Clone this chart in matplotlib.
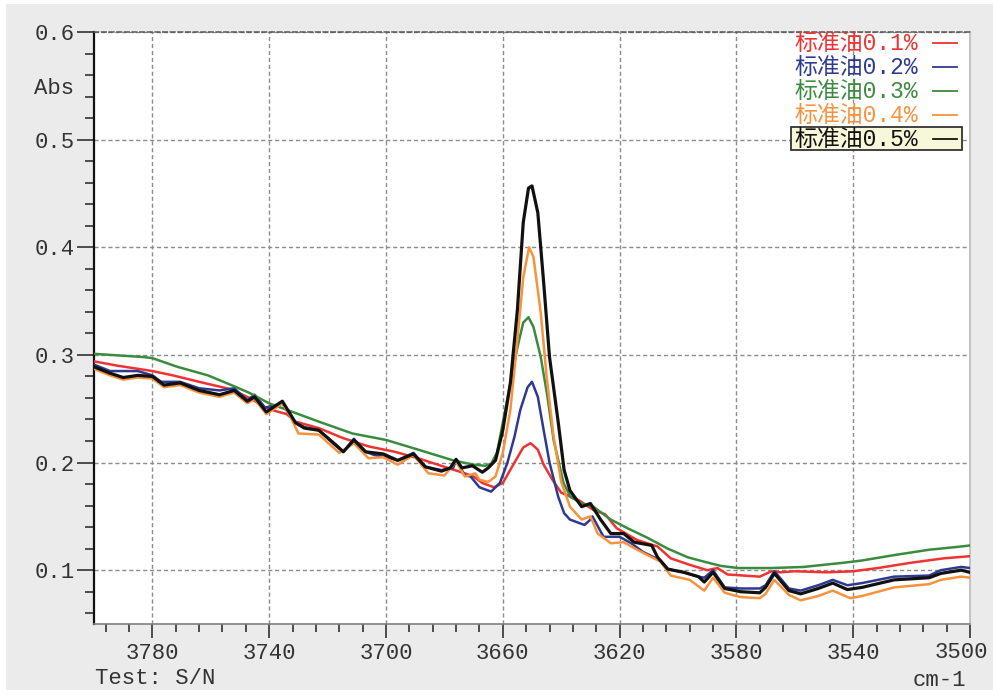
import matplotlib
matplotlib.use("Agg")
import matplotlib.pyplot as plt
import numpy as np
from matplotlib.lines import Line2D
from matplotlib.patches import Rectangle
from matplotlib.ticker import FixedLocator, FuncFormatter

# --- data (wavenumber cm-1, absorbance) ---
wn_01 = [3800, 3792, 3780, 3773, 3764, 3753, 3746, 3742, 3738, 3734, 3731, 3723, 3715,
         3706, 3697, 3689, 3680, 3673, 3670, 3667, 3663, 3660, 3656, 3653, 3650.5, 3648,
         3646, 3643, 3640, 3634, 3629, 3625, 3621, 3614, 3607, 3602.5, 3596, 3590, 3586.5,
         3583, 3572, 3568, 3565, 3560, 3549, 3540, 3531.5, 3520, 3509, 3500]
abs_01 = [0.294, 0.290, 0.285, 0.281, 0.275, 0.268, 0.259, 0.252, 0.248, 0.245, 0.238,
          0.232, 0.223, 0.215, 0.210, 0.204, 0.196, 0.190, 0.187, 0.181, 0.177, 0.181,
          0.200, 0.214, 0.218, 0.212, 0.198, 0.184, 0.172, 0.165, 0.156, 0.152, 0.139,
          0.128, 0.122, 0.111, 0.105, 0.100, 0.102, 0.096, 0.094, 0.099, 0.098, 0.099,
          0.098, 0.099, 0.102, 0.107, 0.111, 0.113]

wn_02 = [3800, 3794.5, 3785, 3780, 3777, 3770.5, 3764, 3757, 3752, 3747.5, 3745, 3741.4,
         3735.5, 3733, 3731, 3728, 3723, 3717, 3714.6, 3711, 3707, 3704, 3700, 3696,
         3690.6, 3686.5, 3681, 3677, 3676, 3673, 3671, 3668, 3664, 3661, 3658.4, 3656,
         3654, 3651.5, 3650, 3648, 3646, 3644, 3641, 3639, 3637, 3632, 3630, 3629.3,
         3625.5, 3620, 3616, 3612, 3606, 3603.5, 3598, 3593, 3591, 3588, 3584, 3578.5,
         3572, 3570, 3567, 3562, 3558, 3552, 3547, 3542, 3537, 3526, 3514, 3510, 3503, 3500]
abs_02 = [0.291, 0.285, 0.285, 0.281, 0.275, 0.275, 0.269, 0.267, 0.269, 0.258, 0.263,
          0.251, 0.255, 0.244, 0.237, 0.233, 0.230, 0.215, 0.210, 0.222, 0.210, 0.207,
          0.205, 0.202, 0.209, 0.196, 0.193, 0.195, 0.202, 0.188, 0.187, 0.177, 0.173,
          0.181, 0.200, 0.224, 0.249, 0.270, 0.275, 0.261, 0.230, 0.200, 0.168, 0.153,
          0.147, 0.142, 0.147, 0.150, 0.131, 0.131, 0.125, 0.117, 0.109, 0.101, 0.098,
          0.094, 0.093, 0.100, 0.084, 0.083, 0.083, 0.086, 0.099, 0.083, 0.081, 0.086,
          0.091, 0.086, 0.088, 0.094, 0.095, 0.100, 0.103, 0.102]

wn_03 = [3800, 3783, 3780, 3771.5, 3761, 3753, 3747, 3740, 3733, 3723, 3711.5, 3700,
         3689, 3677, 3670, 3666, 3664, 3662, 3660, 3657.4, 3655, 3653, 3651.2, 3649.5,
         3647, 3644.7, 3642.6, 3639.2, 3636.8, 3633, 3629, 3623, 3617.3, 3610.4, 3603.5,
         3596.7, 3591.2, 3585.4, 3579.5, 3568, 3557, 3543, 3537, 3526, 3514, 3503, 3500]
abs_03 = [0.301, 0.298, 0.297, 0.289, 0.281, 0.272, 0.265, 0.255, 0.248, 0.238, 0.227,
          0.221, 0.212, 0.202, 0.198, 0.197, 0.199, 0.209, 0.237, 0.274, 0.307, 0.330,
          0.335, 0.326, 0.298, 0.261, 0.221, 0.181, 0.168, 0.162, 0.159, 0.147, 0.139,
          0.130, 0.120, 0.112, 0.108, 0.104, 0.102, 0.102, 0.103, 0.107, 0.109, 0.114,
          0.119, 0.122, 0.123]

wn_04 = [3800, 3794.5, 3790, 3785, 3780, 3776, 3770.5, 3764, 3757, 3752, 3747.5, 3745,
         3741, 3735.5, 3733, 3730, 3723, 3716, 3711, 3706, 3701, 3696, 3690.6, 3685.5,
         3680, 3676, 3673, 3669.4, 3668, 3665, 3662.5, 3660, 3657.4, 3655, 3653, 3651,
         3649.5, 3647, 3645, 3642.6, 3640, 3637, 3633, 3630, 3627.5, 3623, 3618.6, 3614,
         3609, 3606, 3602.5, 3596, 3591, 3588, 3584, 3578.5, 3572, 3570, 3567, 3562,
         3558, 3552, 3547, 3541, 3537, 3526, 3514, 3510, 3503, 3500]
abs_04 = [0.287, 0.281, 0.277, 0.279, 0.278, 0.270, 0.272, 0.265, 0.261, 0.265, 0.255,
          0.259, 0.245, 0.255, 0.244, 0.227, 0.226, 0.209, 0.218, 0.204, 0.205, 0.198,
          0.207, 0.190, 0.188, 0.201, 0.187, 0.190, 0.184, 0.182, 0.187, 0.209, 0.249,
          0.314, 0.372, 0.400, 0.391, 0.339, 0.280, 0.224, 0.182, 0.159, 0.147, 0.150,
          0.134, 0.125, 0.126, 0.119, 0.112, 0.108, 0.095, 0.091, 0.081, 0.093, 0.079,
          0.075, 0.074, 0.078, 0.091, 0.077, 0.072, 0.076, 0.081, 0.074, 0.076, 0.084,
          0.087, 0.091, 0.094, 0.093]

wn_05 = [3800, 3794.5, 3790, 3785, 3780, 3776, 3770.5, 3764, 3757, 3752, 3747.5, 3745,
         3741, 3735.5, 3733, 3731, 3728, 3723, 3717, 3714.6, 3711, 3707, 3701, 3696,
         3690.6, 3686.5, 3681, 3678, 3676, 3674, 3670.4, 3667, 3665, 3662.5, 3660, 3657.4,
         3655, 3653, 3651.2, 3650, 3648, 3646, 3644, 3641, 3639, 3637, 3633, 3630, 3626.5,
         3623, 3618.6, 3615, 3609, 3607, 3603.5, 3598, 3593, 3591, 3588, 3584, 3578.5,
         3572, 3570, 3567, 3562, 3558, 3552, 3547, 3542, 3537, 3526, 3514, 3510, 3503, 3500]
abs_05 = [0.289, 0.283, 0.279, 0.281, 0.280, 0.272, 0.274, 0.267, 0.263, 0.267, 0.257,
          0.261, 0.247, 0.257, 0.246, 0.237, 0.232, 0.230, 0.216, 0.210, 0.221, 0.210,
          0.208, 0.202, 0.208, 0.196, 0.192, 0.195, 0.203, 0.195, 0.197, 0.191, 0.195,
          0.202, 0.230, 0.274, 0.342, 0.423, 0.455, 0.457, 0.432, 0.367, 0.298, 0.237,
          0.193, 0.174, 0.159, 0.162, 0.147, 0.134, 0.134, 0.126, 0.123, 0.112, 0.101,
          0.098, 0.094, 0.089, 0.098, 0.083, 0.080, 0.079, 0.084, 0.097, 0.081, 0.078,
          0.083, 0.088, 0.082, 0.084, 0.091, 0.093, 0.097, 0.100, 0.098]

labels = ["标准油0.1%", "标准油0.2%", "标准油0.3%", "标准油0.4%", "标准油0.5%"]
colors = ["#f03232", "#2e3a92", "#3b8b3e", "#f8923c", "#111111"]
x_major = [3780, 3740, 3700, 3660, 3620, 3580, 3540, 3500]

W, H = 993, 694
mono = "Liberation Mono"
cjk = [mono, "Noto Sans CJK SC", "DejaVu Sans"]

fig = plt.figure(figsize=(W / 100, H / 100), dpi=100)
fig.patch.set_facecolor("white")
fig.add_artist(Rectangle((6 / W, 4 / H), (W - 6) / W, (H - 8) / H,
                         transform=fig.transFigure, fc="#ebebeb", ec="none", zorder=-5))

ax = fig.add_axes([94 / W, 1 - 624 / H, (970 - 94) / W, (624 - 32) / H])
ax.set_facecolor("white")

series = [(wn_01, abs_01), (wn_02, abs_02), (wn_03, abs_03), (wn_04, abs_04), (wn_05, abs_05)]
for (wn, ab), c in zip(series, colors):
    lw = 2.3 if c == "#111111" else 1.8
    ax.plot(wn, ab, color=c, lw=lw, solid_joinstyle="round", zorder=3)

ax.set_xlim(3800, 3500)
ax.set_ylim(0.05, 0.6)

ax.xaxis.set_major_locator(FixedLocator(x_major))
ax.xaxis.set_minor_locator(FixedLocator(np.arange(3500, 3800, 8)))
ax.yaxis.set_major_locator(FixedLocator([0.1, 0.2, 0.3, 0.4, 0.5, 0.6]))
ax.yaxis.set_minor_locator(FixedLocator(np.arange(0.06, 0.6, 0.02)))
ax.yaxis.set_major_formatter(FuncFormatter(lambda v, p: f"{v:.1f}"))
# the last label (3500) is nudged left by hand so it stays inside the frame
ax.xaxis.set_major_formatter(FuncFormatter(lambda v, p: "" if v == 3500 else f"{v:.0f}"))

ax.tick_params(axis="y", which="major", direction="out", length=12, width=1.1,
               color="#222222", pad=2, labelsize=16)
ax.tick_params(axis="y", which="minor", direction="out", length=6.5, width=1.1, color="#222222")
ax.tick_params(axis="x", which="major", direction="out", length=10, width=1.1,
               color="#222222", pad=4, labelsize=16)
ax.tick_params(axis="x", which="minor", direction="out", length=5.5, width=1.1, color="#222222")
for lab in ax.get_xticklabels() + ax.get_yticklabels():
    lab.set_family(mono)
    lab.set_color("#333333")

ax.grid(True, which="major", ls=(0, (3, 2)), color="#8c8c8c", lw=1.0, zorder=1)
ax.spines["left"].set_color("#111111")
ax.spines["left"].set_linewidth(1.6)
ax.spines["bottom"].set_color("#808080")
ax.spines["bottom"].set_linewidth(1.2)
ax.spines["top"].set_color("#555555")
ax.spines["top"].set_linestyle((0, (3, 2)))
ax.spines["top"].set_linewidth(1.1)
ax.spines["right"].set_color("#c4c4c4")
ax.spines["right"].set_linewidth(1.5)

fig.text(961 / W, 1 - 653 / H, "3500", ha="center", va="center", family=mono,
         fontsize=16, color="#333333")
fig.text(54 / W, 1 - 88 / H, "Abs", ha="center", va="center", family=mono,
         fontsize=16, color="#333333")
fig.text(95 / W, 1 - 678 / H, "Test: S/N", ha="left", va="center", family=mono,
         fontsize=16, color="#333333")
fig.text(966 / W, 1 - 680 / H, "cm-1", ha="right", va="center", family=mono,
         fontsize=16, color="#333333")

# legend drawn by hand: right-aligned coloured text with a short line after it
leg_y = [43, 67, 91, 115, 139]
fig.add_artist(Rectangle((791 / W, 1 - 150 / H), (962 - 791) / W, 23 / H,
                         transform=fig.transFigure, fc="#f7f7d9", ec="#333333",
                         lw=1.3, zorder=5))
for lab, c, yp in zip(labels, colors, leg_y):
    fig.text(918 / W, 1 - yp / H, lab, ha="right", va="center", family=cjk,
             fontsize=16.5, color=c, zorder=6)
    fig.add_artist(Line2D([933 / W, 957 / W], [1 - yp / H, 1 - yp / H],
                          transform=fig.transFigure, color=c, lw=1.3, zorder=6))

fig.savefig("out.png", dpi=100, facecolor=fig.get_facecolor())
